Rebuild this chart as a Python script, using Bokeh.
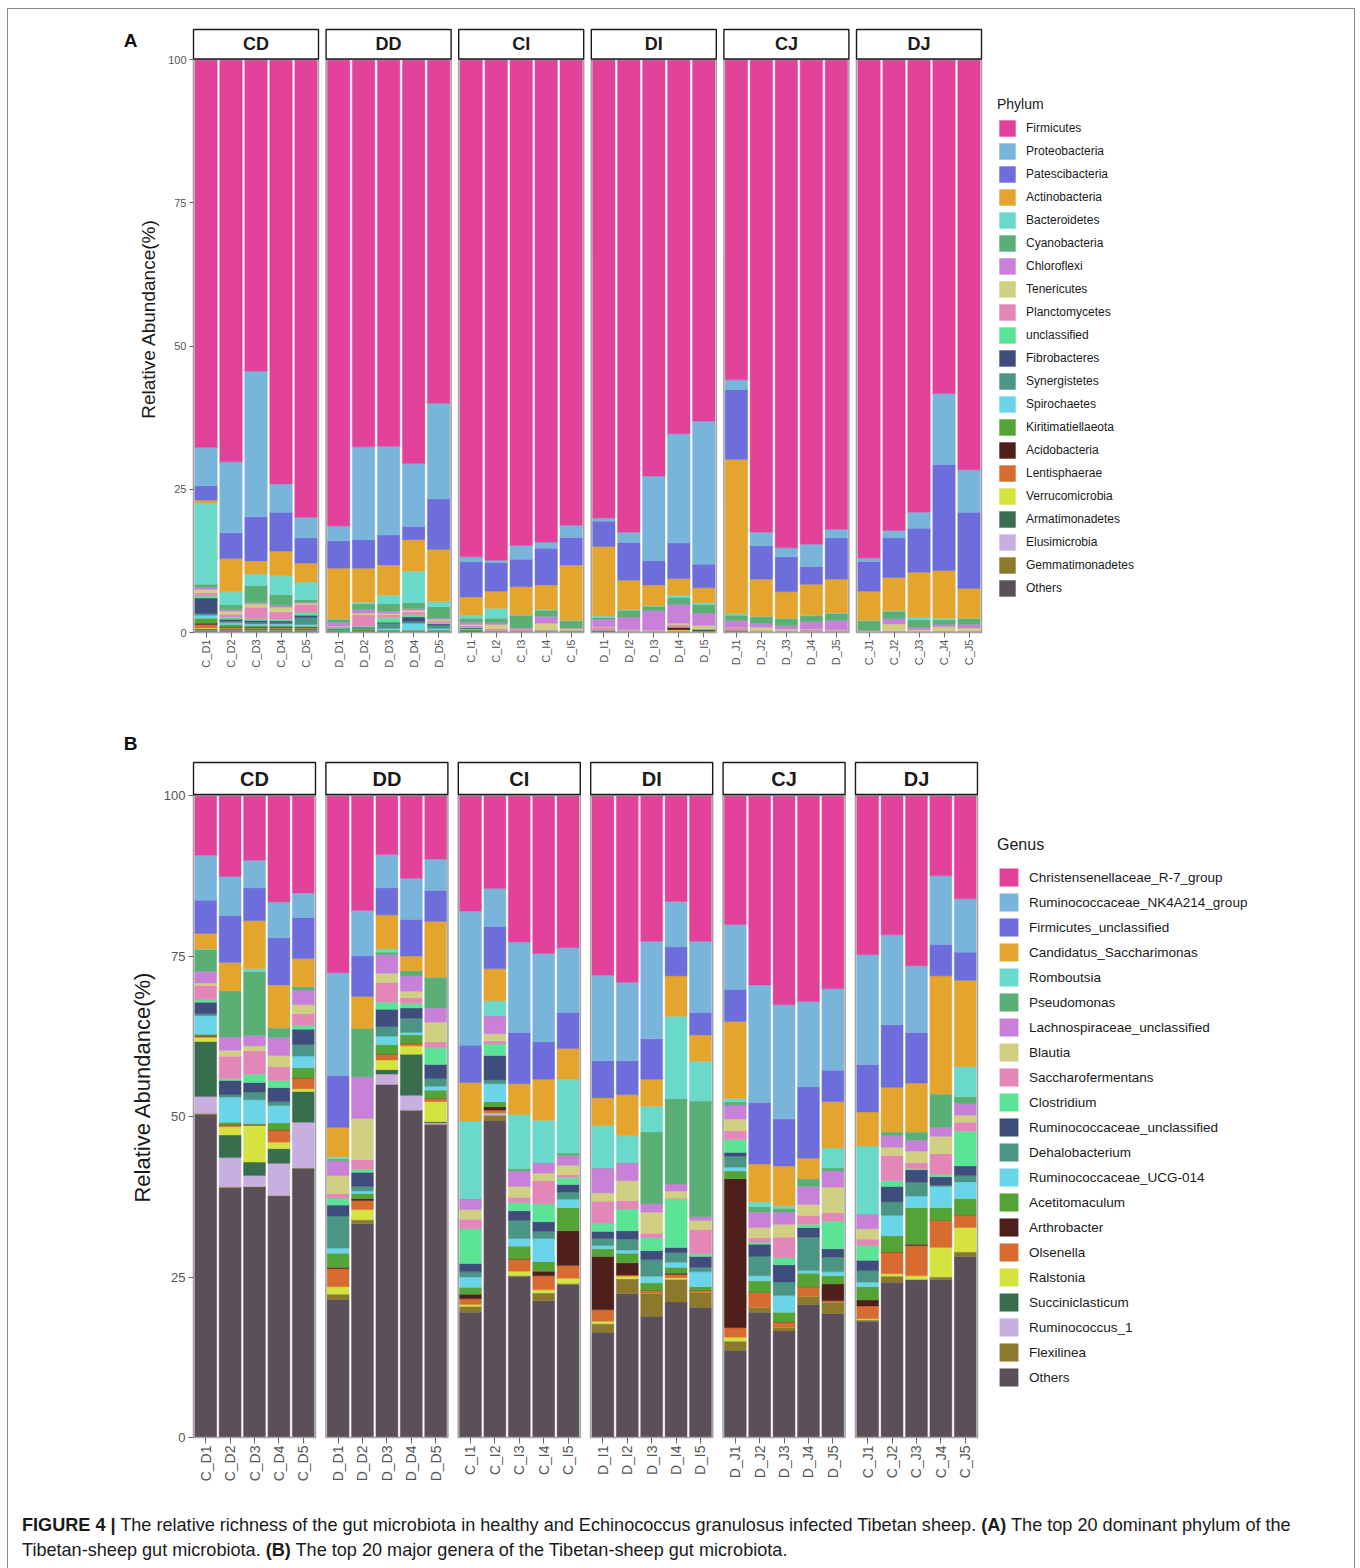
import math

from bokeh.core.properties import value
from bokeh.embed import file_html
from bokeh.layouts import column
from bokeh.models import (ColumnDataSource, Div, FixedTicker, Label, Legend,
                          LegendItem, Range1d)
from bokeh.plotting import figure
from bokeh.resources import INLINE

FONT = "Liberation Sans"

# ---------------------------------------------------------------- samples
facets = ["CD", "DD", "CI", "DI", "CJ", "DJ"]
sample_labels = [
    "C_D1", "C_D2", "C_D3", "C_D4", "C_D5",
    "D_D1", "D_D2", "D_D3", "D_D4", "D_D5",
    "C_I1", "C_I2", "C_I3", "C_I4", "C_I5",
    "D_I1", "D_I2", "D_I3", "D_I4", "D_I5",
    "D_J1", "D_J2", "D_J3", "D_J4", "D_J5",
    "C_J1", "C_J2", "C_J3", "C_J4", "C_J5",
]
y_ticks = [0, 25, 50, 75, 100]

palette = [
    "#E2429A", "#79B4DA", "#6D6EDC", "#E4A52E", "#69DACA", "#5AAF74",
    "#C880D8", "#D0CF82", "#E287B7", "#5BE496", "#3F4D7C", "#4A9584",
    "#6AD4E8", "#53A336", "#4F1F1B", "#D86C30", "#D6E33E", "#386E4D",
    "#C9AEE0", "#8C792C", "#5B4F59",
]

# ---------------------------------------------------------------- phylum (%)
phylum_names = [
    "Firmicutes", "Proteobacteria", "Patescibacteria", "Actinobacteria",
    "Bacteroidetes", "Cyanobacteria", "Chloroflexi", "Tenericutes",
    "Planctomycetes", "unclassified", "Fibrobacteres", "Synergistetes",
    "Spirochaetes", "Kiritimatiellaeota", "Acidobacteria", "Lentisphaerae",
    "Verrucomicrobia", "Armatimonadetes", "Elusimicrobia", "Gemmatimonadetes",
    "Others",
]
firmicutes = [67.7, 70.2, 54.4, 74.1, 79.9, 81.4, 67.6, 67.5, 70.5, 60.0,
              86.8, 87.4, 84.8, 84.2, 81.3, 80.0, 82.5, 72.7, 65.3, 63.1,
              55.9, 82.5, 85.2, 84.6, 82.0, 87.0, 82.2, 79.0, 58.3, 71.6]
proteobacteria = [6.7, 12.4, 25.4, 4.9, 3.6, 2.6, 16.2, 15.5, 11.0, 16.7,
                  0.9, 0.4, 2.4, 1.1, 2.1, 0.6, 1.8, 14.8, 19.1, 25.0,
                  1.7, 2.4, 1.6, 3.9, 1.5, 0.6, 1.3, 2.8, 12.4, 7.4]
patescibacteria = [2.5, 4.5, 7.7, 6.8, 4.4, 4.8, 5.0, 5.2, 2.3, 8.8,
                   6.1, 5.0, 4.8, 6.4, 4.8, 4.4, 6.6, 4.2, 6.2, 4.1,
                   12.2, 5.8, 6.1, 3.1, 7.2, 5.2, 6.9, 7.7, 18.5, 13.3]
actinobacteria = [0.5, 5.8, 2.3, 4.3, 3.3, 8.8, 5.9, 5.3, 5.5, 9.1,
                  3.2, 3.0, 4.9, 4.3, 9.7, 12.1, 5.1, 3.6, 2.9, 2.6,
                  26.9, 6.5, 4.6, 5.4, 5.9, 5.1, 5.8, 7.8, 8.3, 5.2]
bacteroidetes = [14.2, 2.3, 2.0, 3.3, 3.1, 0.1, 0.3, 1.5, 5.5, 0.9,
                 0.5, 1.7, 0.1, 0.1, 0.1, 0.3, 0.1, 0.1, 0.4, 0.3,
                 0.3, 0.1, 0.1, 0.1, 0.1, 0.1, 0.1, 0.5, 0.3, 0.1]
cyanobacteria = [0.5, 0.8, 3.0, 1.9, 0.4, 0.5, 1.0, 1.3, 1.0, 2.0,
                 0.7, 0.8, 2.2, 1.1, 1.2, 0.3, 1.2, 0.8, 1.2, 1.5,
                 0.9, 1.1, 1.2, 1.0, 1.2, 1.6, 1.3, 1.3, 0.8, 1.0]
chloroflexi = [0.4, 0.3, 0.2, 0.3, 0.2, 0.7, 0.6, 0.4, 0.3, 0.2,
               0.4, 0.3, 0.1, 1.2, 0.1, 1.3, 2.2, 3.4, 3.3, 2.2,
               1.2, 0.7, 0.6, 1.3, 1.6, 0.1, 0.9, 0.4, 0.4, 0.6]
tenericutes = [0.6, 0.5, 0.6, 0.8, 0.2, 0.1, 0.3, 0.2, 0.3, 0.3,
               0.2, 0.8, 0.1, 1.1, 0.3, 0.1, 0.1, 0.1, 0.2, 0.5,
               0.1, 0.5, 0.2, 0.1, 0.1, 0.1, 1.2, 0.3, 0.7, 0.5]
planctomycetes = [0.5, 0.6, 2.0, 1.3, 1.4, 0.2, 2.0, 0.5, 0.5, 0.3,
                  0.3, 0.3, 0.3, 0.2, 0.1, 0.5, 0.2, 0.1, 0.4, 0.1,
                  0.4, 0.2, 0.2, 0.3, 0.2, 0.1, 0.2, 0.1, 0.2, 0.2]
unclassified = [0.4, 0.3, 0.3, 0.3, 0.5, 0.1, 0.2, 0.8, 0.4, 0.2,
                0.1, 0.1, 0.1, 0.1, 0.1, 0.1, 0.1, 0.1, 0.1, 0.1,
                0.1, 0.1, 0.1, 0.1, 0.1, 0.0, 0.0, 0.0, 0.0, 0.0]
fibrobacteres = [2.7, 0.3, 0.3, 0.3, 0.4, 0.1, 0.1, 0.2, 0.8, 0.2,
                 0.1, 0.0, 0.0, 0.0, 0.0, 0.0, 0.0, 0.0, 0.0, 0.0,
                 0.0, 0.0, 0.0, 0.0, 0.0, 0.0, 0.0, 0.0, 0.0, 0.0]
synergistetes = [0.3, 0.3, 0.3, 0.2, 1.2, 0.1, 0.1, 0.9, 0.3, 0.6,
                 0.1, 0.0, 0.0, 0.0, 0.0, 0.0, 0.0, 0.0, 0.0, 0.0,
                 0.0, 0.0, 0.0, 0.0, 0.0, 0.0, 0.0, 0.0, 0.0, 0.0]
spirochaetes = [0.5, 0.3, 0.3, 0.3, 0.3, 0.1, 0.1, 0.3, 1.2, 0.3,
                0.1, 0.0, 0.0, 0.0, 0.0, 0.0, 0.0, 0.0, 0.0, 0.0,
                0.0, 0.0, 0.0, 0.0, 0.0, 0.0, 0.0, 0.0, 0.0, 0.0]
kiritimatiellaeota = [0.9, 0.4, 0.3, 0.3, 0.2, 0.1, 0.3, 0.1, 0.1, 0.1,
                      0.3, 0.1, 0.1, 0.1, 0.1, 0.0, 0.0, 0.0, 0.0, 0.0,
                      0.0, 0.0, 0.0, 0.0, 0.0, 0.0, 0.0, 0.0, 0.0, 0.0]
acidobacteria = [0.2, 0.1, 0.1, 0.1, 0.1, 0.0, 0.0, 0.0, 0.0, 0.0,
                 0.0, 0.0, 0.0, 0.0, 0.0, 0.1, 0.0, 0.0, 0.4, 0.2,
                 0.0, 0.0, 0.0, 0.0, 0.0, 0.0, 0.0, 0.0, 0.0, 0.0]
lentisphaerae = [0.6, 0.2, 0.1, 0.1, 0.1, 0.1, 0.1, 0.1, 0.1, 0.1,
                 0.1, 0.0, 0.0, 0.0, 0.0, 0.0, 0.0, 0.0, 0.0, 0.0,
                 0.2, 0.0, 0.0, 0.0, 0.0, 0.0, 0.0, 0.0, 0.0, 0.0]
verrucomicrobia = [0.2, 0.1, 0.1, 0.1, 0.1, 0.0, 0.0, 0.0, 0.0, 0.0,
                   0.0, 0.0, 0.0, 0.0, 0.0, 0.0, 0.0, 0.0, 0.3, 0.0,
                   0.0, 0.0, 0.0, 0.0, 0.0, 0.0, 0.0, 0.0, 0.0, 0.0]
armatimonadetes = [0.2, 0.2, 0.2, 0.2, 0.2, 0.0, 0.1, 0.1, 0.1, 0.1,
                   0.0, 0.0, 0.0, 0.0, 0.0, 0.0, 0.0, 0.0, 0.0, 0.0,
                   0.0, 0.0, 0.0, 0.0, 0.0, 0.0, 0.0, 0.0, 0.0, 0.0]
elusimicrobia = [0.1, 0.1, 0.1, 0.1, 0.1, 0.0, 0.0, 0.0, 0.0, 0.0,
                 0.0, 0.0, 0.0, 0.0, 0.0, 0.0, 0.0, 0.0, 0.0, 0.0,
                 0.0, 0.0, 0.0, 0.0, 0.0, 0.0, 0.0, 0.0, 0.0, 0.0]
gemmatimonadetes = [0.1, 0.1, 0.1, 0.1, 0.1, 0.1, 0.0, 0.0, 0.0, 0.0,
                    0.0, 0.0, 0.0, 0.0, 0.0, 0.1, 0.0, 0.0, 0.1, 0.2,
                    0.0, 0.0, 0.0, 0.0, 0.0, 0.0, 0.0, 0.0, 0.0, 0.0]
phylum_others = [0.2, 0.2, 0.2, 0.2, 0.2, 0.1, 0.1, 0.1, 0.1, 0.1,
                 0.1, 0.1, 0.1, 0.1, 0.1, 0.1, 0.1, 0.1, 0.1, 0.1,
                 0.1, 0.1, 0.1, 0.1, 0.1, 0.1, 0.1, 0.1, 0.1, 0.1]
phylum_series = [
    firmicutes, proteobacteria, patescibacteria, actinobacteria, bacteroidetes,
    cyanobacteria, chloroflexi, tenericutes, planctomycetes, unclassified,
    fibrobacteres, synergistetes, spirochaetes, kiritimatiellaeota,
    acidobacteria, lentisphaerae, verrucomicrobia, armatimonadetes,
    elusimicrobia, gemmatimonadetes, phylum_others,
]

# ---------------------------------------------------------------- genus (%)
genus_names = [
    "Christensenellaceae_R-7_group", "Ruminococcaceae_NK4A214_group",
    "Firmicutes_unclassified", "Candidatus_Saccharimonas", "Romboutsia",
    "Pseudomonas", "Lachnospiraceae_unclassified", "Blautia",
    "Saccharofermentans", "Clostridium", "Ruminococcaceae_unclassified",
    "Dehalobacterium", "Ruminococcaceae_UCG-014", "Acetitomaculum",
    "Arthrobacter", "Olsenella", "Ralstonia", "Succiniclasticum",
    "Ruminococcus_1", "Flexilinea", "Others",
]
christensenellaceae_r7 = [9.3, 12.6, 10.1, 16.6, 15.2, 27.6, 17.9, 9.2, 12.9, 9.9,
                          18.0, 14.5, 22.8, 24.6, 23.7, 28.0, 29.1, 22.7, 16.5, 22.7,
                          20.1, 29.5, 32.6, 32.1, 30.1, 24.8, 21.7, 26.5, 12.5, 16.1]
ruminococcaceae_nk4a214 = [7.0, 6.1, 4.3, 5.6, 3.8, 16.0, 7.1, 5.2, 6.4, 4.9,
                           20.9, 5.9, 14.1, 13.8, 10.1, 13.3, 12.2, 15.2, 7.1, 11.1,
                           10.1, 18.3, 17.8, 13.3, 12.7, 17.1, 14.0, 10.4, 10.7, 8.3]
firmicutes_unclassified = [5.2, 7.3, 5.1, 7.3, 6.4, 8.1, 6.3, 4.2, 5.7, 4.8,
                           5.8, 6.6, 8.0, 5.8, 5.6, 5.8, 5.3, 6.3, 4.5, 3.5,
                           5.0, 9.6, 7.3, 11.1, 4.9, 7.4, 9.8, 7.9, 4.9, 4.4]
candidatus_saccharimonas = [2.4, 4.4, 7.5, 6.7, 4.4, 4.6, 5.0, 5.3, 2.3, 8.7,
                            6.0, 5.0, 4.8, 6.4, 4.8, 4.3, 6.4, 4.2, 6.3, 4.1,
                            12.0, 5.9, 6.2, 3.2, 7.2, 5.3, 6.9, 7.6, 18.4, 13.4]
romboutsia = [0.1, 0.0, 0.4, 0.0, 0.0, 0.3, 0.0, 0.5, 0.0, 0.0,
              12.1, 2.3, 8.4, 6.6, 11.5, 6.6, 4.2, 4.0, 12.8, 6.2,
              0.5, 0.8, 0.4, 0.0, 3.1, 10.6, 0.0, 0.0, 0.0, 4.7]
pseudomonas = [3.4, 7.2, 10.0, 1.5, 0.5, 0.3, 7.5, 0.4, 0.8, 4.8,
               0.0, 0.0, 0.4, 0.0, 0.4, 0.0, 0.0, 11.2, 13.3, 18.0,
               0.5, 0.8, 0.6, 1.2, 0.5, 0.0, 0.6, 1.3, 5.2, 1.1]
lachnospiraceae_unclassified = [1.8, 2.1, 1.6, 2.8, 2.3, 2.3, 6.5, 2.9, 2.4, 2.2,
                                1.7, 2.8, 2.4, 1.6, 1.5, 3.9, 2.8, 1.3, 1.1, 0.6,
                                2.2, 2.4, 1.9, 2.8, 2.5, 2.3, 1.8, 1.7, 1.4, 1.8]
blautia = [0.4, 0.9, 0.8, 1.7, 1.4, 2.8, 6.4, 1.4, 1.0, 3.1,
           1.5, 1.1, 1.7, 1.2, 1.5, 1.3, 3.1, 3.3, 1.1, 1.4,
           1.8, 1.6, 2.0, 1.7, 4.0, 1.6, 1.3, 1.8, 2.7, 1.1]
saccharofermentans = [2.2, 3.5, 3.6, 2.2, 1.8, 0.7, 1.5, 3.1, 0.9, 0.9,
                      1.5, 0.5, 0.8, 3.6, 0.4, 3.4, 1.3, 0.7, 0.1, 3.8,
                      1.4, 0.7, 3.2, 1.4, 1.3, 1.0, 3.9, 0.9, 3.2, 1.4]
clostridium = [0.4, 0.3, 1.3, 1.1, 0.6, 1.1, 0.5, 1.1, 0.7, 2.6,
               5.4, 1.8, 1.3, 2.8, 1.1, 1.3, 3.4, 2.0, 7.6, 0.4,
               2.0, 0.3, 1.1, 0.5, 4.3, 2.3, 0.9, 0.2, 0.4, 5.4]
ruminococcaceae_unclassified = [1.8, 2.2, 1.5, 2.2, 2.4, 1.7, 2.2, 2.7, 1.6, 2.2,
                                1.3, 3.8, 1.5, 1.5, 1.2, 1.1, 1.3, 1.4, 0.8, 1.7,
                                0.6, 1.9, 2.7, 1.5, 1.3, 1.6, 2.4, 1.9, 1.3, 1.5]
dehalobacterium = [0.3, 0.4, 1.2, 0.6, 1.8, 5.0, 0.7, 1.5, 2.2, 1.2,
                   0.8, 0.6, 2.8, 1.1, 1.1, 1.1, 1.7, 2.6, 1.5, 0.7,
                   1.7, 3.0, 2.1, 5.2, 2.3, 1.8, 2.1, 2.2, 0.2, 1.0]
ruminococcaceae_ucg014 = [2.9, 3.9, 3.7, 2.7, 1.8, 0.8, 0.4, 1.3, 0.4, 0.6,
                          1.6, 2.8, 1.2, 3.6, 1.3, 0.5, 0.5, 1.0, 0.8, 2.3,
                          0.6, 0.8, 2.6, 0.4, 0.6, 0.7, 3.2, 1.8, 3.3, 2.6]
acetitomaculum = [0.2, 0.4, 0.2, 1.1, 1.6, 2.2, 0.8, 1.5, 1.3, 1.3,
                  1.1, 0.8, 2.0, 1.5, 3.6, 1.2, 1.5, 1.2, 0.9, 0.6,
                  1.2, 1.8, 1.5, 2.1, 1.3, 2.1, 2.5, 5.7, 2.0, 2.5]
arthrobacter = [0.1, 0.0, 0.0, 0.0, 0.0, 0.2, 0.3, 0.0, 0.0, 0.0,
                0.7, 0.5, 0.0, 0.7, 5.4, 8.3, 1.9, 0.0, 0.2, 0.0,
                23.2, 0.0, 0.0, 0.0, 2.6, 0.9, 0.0, 0.2, 0.0, 0.0]
olsenella = [0.2, 0.3, 0.1, 1.9, 1.7, 2.8, 1.4, 0.9, 0.4, 0.5,
             0.9, 0.4, 1.9, 2.2, 2.0, 1.8, 0.2, 0.4, 0.5, 0.3,
             1.5, 2.3, 0.8, 1.5, 0.2, 2.0, 3.4, 4.7, 4.2, 2.0]
ralstonia = [0.6, 1.3, 5.7, 1.0, 0.4, 1.2, 1.6, 1.5, 1.3, 3.1,
             0.3, 0.0, 0.7, 0.5, 0.8, 0.4, 0.4, 0.0, 0.3, 0.0,
             0.6, 0.0, 0.0, 0.0, 0.0, 0.2, 0.4, 0.6, 4.6, 3.8]
succiniclasticum = [8.6, 3.5, 2.1, 2.3, 4.8, 0.0, 0.0, 0.7, 6.4, 0.2,
                    0.0, 0.0, 0.0, 0.0, 0.0, 0.0, 0.0, 0.0, 0.0, 0.0,
                    0.0, 0.0, 0.0, 0.0, 0.0, 0.0, 0.0, 0.0, 0.0, 0.0]
ruminococcus_1 = [2.6, 4.6, 1.7, 5.0, 7.1, 0.0, 0.0, 1.6, 2.3, 0.2,
                  0.0, 0.4, 0.0, 0.0, 0.0, 0.0, 0.0, 0.0, 0.0, 0.0,
                  0.0, 0.0, 0.0, 0.0, 0.0, 0.0, 0.0, 0.0, 0.0, 0.0]
flexilinea = [0.2, 0.1, 0.1, 0.1, 0.1, 0.8, 0.6, 0.0, 0.1, 0.1,
              0.9, 0.8, 0.1, 1.2, 0.2, 1.3, 2.3, 3.6, 3.5, 2.3,
              1.4, 0.8, 0.6, 1.3, 1.8, 0.2, 0.9, 0.0, 0.4, 0.7]
genus_others = [50.3, 38.9, 39.0, 37.6, 41.9, 21.5, 33.3, 55.0, 50.9, 48.7,
                19.5, 49.4, 25.1, 21.3, 23.8, 16.4, 22.4, 18.9, 21.1, 20.3,
                13.6, 19.5, 16.6, 20.7, 19.3, 18.1, 24.2, 24.6, 24.6, 28.2]
genus_series = [
    christensenellaceae_r7, ruminococcaceae_nk4a214, firmicutes_unclassified,
    candidatus_saccharimonas, romboutsia, pseudomonas,
    lachnospiraceae_unclassified, blautia, saccharofermentans, clostridium,
    ruminococcaceae_unclassified, dehalobacterium, ruminococcaceae_ucg014,
    acetitomaculum, arthrobacter, olsenella, ralstonia, succiniclasticum,
    ruminococcus_1, flexilinea, genus_others,
]

# ---------------------------------------------------------------- layout
PAGE_W = 1360
FRAME_LEFT = 100      # left edge of the drawing frame
FACET_LEFT = 193      # where the first facet panel starts

# zero_px: page row of the 0 % line; tick_px: x tick length below it
style_a = dict(height=730, page_top=0, zero_px=632, tick_px=5, px_per_pct=5.73,
               unit_px=25.0, gap=0.304, strip_top=29, strip_bottom=58.5,
               strip_font="18px", tick_font="11px", xlab_font="11px",
               axis_font="19px", axis_standoff=6, ytick_len=4,
               legend_title_font="14px", legend_font="12px",
               glyph_w=20, glyph_h=20, spacing=3, title_standoff=6,
               legend_loc=(997 - FRAME_LEFT, 39), letter_xy=(130, 40))
style_b = dict(height=760, page_top=730, zero_px=1437, tick_px=6, px_per_pct=6.42,
               unit_px=24.4, gap=0.426, strip_top=762, strip_bottom=794,
               strip_font="20px", tick_font="13px", xlab_font="14px",
               axis_font="22px", axis_standoff=6, ytick_len=5,
               legend_title_font="16px", legend_font="13.5px",
               glyph_w=23, glyph_h=22, spacing=3, title_standoff=12,
               legend_loc=(997 - FRAME_LEFT, 55), letter_xy=(130, 743))


def build_panel(names, series, colors, st, legend_title, letter):
    unit = st["unit_px"]
    ppp = st["px_per_pct"]
    zero = st["zero_px"]
    tick = st["tick_px"]
    frame_h = zero + tick - st["page_top"]
    x0 = -(FACET_LEFT - FRAME_LEFT) / unit

    p = figure(width=PAGE_W, height=st["height"], title=None,
               output_backend="svg", toolbar_location=None,
               x_range=Range1d(x0, x0 + (PAGE_W - FRAME_LEFT) / unit),
               y_range=Range1d(-tick / ppp, (zero - st["page_top"]) / ppp),
               min_border_left=FRAME_LEFT, min_border_right=0,
               min_border_top=0, min_border_bottom=st["height"] - frame_h)
    p.outline_line_color = None
    p.background_fill_color = None
    p.border_fill_color = None
    p.xgrid.visible = False
    p.ygrid.visible = False

    step = 5 + st["gap"]
    centers = [f * step + j + 0.5 for f in range(len(facets)) for j in range(5)]
    lefts = [f * step for f in range(len(facets))]
    rights = [left + 5 for left in lefts]
    mids = [left + 2.5 for left in lefts]

    data = {"x": centers}
    for name, vals in zip(names, series):
        data[name] = vals
    src = ColumnDataSource(data)

    stack_names = list(reversed(names))
    stack_colors = list(reversed(colors))
    renderers = p.vbar_stack(stack_names, x="x", width=0.9, source=src,
                             fill_color=stack_colors, line_color=stack_colors,
                             line_width=0.4)

    # panel borders
    p.quad(left=lefts, right=rights, bottom=0, top=100, fill_color=None,
           line_color="#a3a3a3", line_width=1.6)

    # facet strips
    s_bot = (zero - st["strip_bottom"]) / ppp
    s_top = (zero - st["strip_top"]) / ppp
    p.quad(left=lefts, right=rights, bottom=s_bot, top=s_top,
           fill_color="white", line_color="#1a1a1a", line_width=1.4)
    p.text(x=mids, y=(s_bot + s_top) / 2, text=facets,
           text_font=value(FONT), text_font_style="bold",
           text_font_size=st["strip_font"], text_color="#1a1a1a",
           text_align="center", text_baseline="middle")

    # x axis: one tick per sample, ticks reach up to the 0 % line
    xa = p.xaxis[0]
    xa.ticker = FixedTicker(ticks=centers)
    xa.major_label_overrides = {c: lab for c, lab in zip(centers, sample_labels)}
    xa.major_label_orientation = math.pi / 2
    xa.major_label_text_font = FONT
    xa.major_label_text_font_size = st["xlab_font"]
    xa.major_label_text_color = "#555555"
    xa.major_label_standoff = 2
    xa.axis_line_color = None
    xa.major_tick_in = tick
    xa.major_tick_out = 0
    xa.major_tick_line_color = "#666666"
    xa.minor_tick_line_color = None

    # y axis, pinned to the left edge of the first facet
    ya = p.yaxis[0]
    ya.fixed_location = 0
    ya.ticker = FixedTicker(ticks=y_ticks)
    ya.axis_label = "Relative Abundance(%)"
    ya.axis_label_text_font = FONT
    ya.axis_label_text_font_style = "normal"
    ya.axis_label_text_font_size = st["axis_font"]
    ya.axis_label_text_color = "#1a1a1a"
    ya.axis_label_standoff = st["axis_standoff"]
    ya.major_label_text_font = FONT
    ya.major_label_text_font_size = st["tick_font"]
    ya.major_label_text_color = "#555555"
    ya.major_label_standoff = 3
    ya.axis_line_color = None
    ya.major_tick_in = 0
    ya.major_tick_out = st["ytick_len"]
    ya.major_tick_line_color = "#666666"
    ya.minor_tick_line_color = None

    # legend
    rmap = dict(zip(stack_names, renderers))
    items = [LegendItem(label=n, renderers=[rmap[n]]) for n in names]
    legend = Legend(items=items, location=st["legend_loc"], title=legend_title,
                    title_text_font=FONT, title_text_font_size=st["legend_title_font"],
                    title_text_font_style="normal", title_text_color="#1a1a1a",
                    title_standoff=st["title_standoff"],
                    label_text_font=FONT, label_text_font_size=st["legend_font"],
                    label_text_color="#1a1a1a", label_standoff=9,
                    glyph_width=st["glyph_w"], glyph_height=st["glyph_h"],
                    label_height=st["glyph_h"], spacing=st["spacing"],
                    padding=0, margin=0, border_line_color=None,
                    background_fill_alpha=0)
    p.add_layout(legend)

    # panel letter
    lx, ly = st["letter_xy"]
    p.add_layout(Label(x=x0 + (lx - FRAME_LEFT) / unit,
                       y=(zero - ly) / ppp,
                       text=letter, text_font=FONT, text_font_style="bold",
                       text_font_size="19px", text_color="#111111",
                       text_align="center", text_baseline="middle"))
    return p


panel_a = build_panel(phylum_names, phylum_series, palette, style_a, "Phylum", "A")
panel_b = build_panel(genus_names, genus_series, palette, style_b, "Genus", "B")

caption = Div(
    width=PAGE_W, height=78,
    text=(
        '<div style="font-family:\'Liberation Sans\',Arial,sans-serif;'
        'font-size:18.1px;line-height:25px;color:#1a1a1a;white-space:nowrap;'
        'padding:18px 0 0 17px;">'
        '<b>FIGURE 4 |</b> The relative richness of the gut microbiota in healthy '
        'and Echinococcus granulosus infected Tibetan sheep. <b>(A)</b> The top 20 '
        'dominant phylum of the<br>Tibetan-sheep gut microbiota. <b>(B)</b> The top '
        '20 major genera of the Tibetan-sheep gut microbiota.</div>'
    ),
)

# thin frame round the whole figure (left, top and right edges)
frame_css = {
    "background-image": ("linear-gradient(#8a8a8a,#8a8a8a),"
                         "linear-gradient(#8a8a8a,#8a8a8a),"
                         "linear-gradient(#8a8a8a,#8a8a8a)"),
    "background-size": "1.3px 1600px, 1348px 1.3px, 1.3px 1600px",
    "background-position": "7px 8px, 7px 8px, 1354px 8px",
    "background-repeat": "no-repeat",
    "background-color": "white",
}

page = column(panel_a, panel_b, caption, styles=frame_css)

with open("out.html", "w") as fh:
    fh.write(file_html(page, INLINE))
